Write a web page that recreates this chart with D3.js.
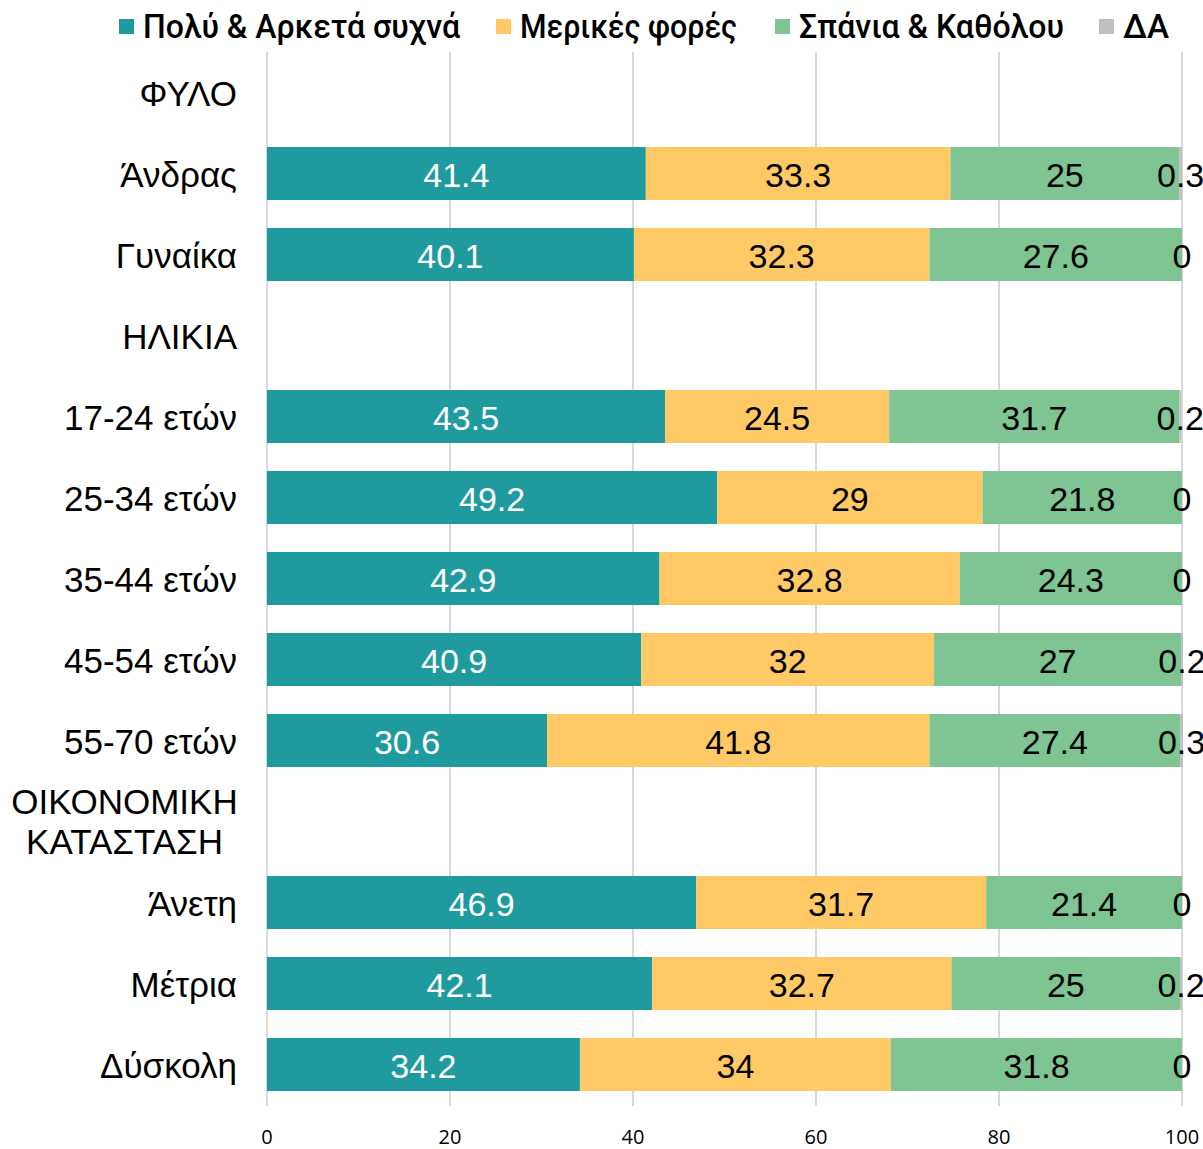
<!DOCTYPE html>
<html><head><meta charset="utf-8">
<script src="https://cdn.jsdelivr.net/npm/d3@7"></script>
<style>body{margin:0;background:#fff;} svg{display:block;}</style>
</head><body>
<svg id="chart" width="1203" height="1149"></svg>
<script>
const categories = ["ΦΥΛΟ","Άνδρας","Γυναίκα","ΗΛΙΚΙΑ","17-24 ετών","25-34 ετών","35-44 ετών","45-54 ετών","55-70 ετών","ΟΙΚΟΝΟΜΙΚΗ ΚΑΤΑΣΤΑΣΗ","Άνετη","Μέτρια","Δύσκολη"];
const seriesNames = ["Πολύ & Αρκετά συχνά","Μερικές φορές","Σπάνια & Καθόλου","ΔΑ"];
const often    = [null,41.4,40.1,null,43.5,49.2,42.9,40.9,30.6,null,46.9,42.1,34.2];
const sometimes= [null,33.3,32.3,null,24.5,29,32.8,32,41.8,null,31.7,32.7,34];
const rarely   = [null,25,27.6,null,31.7,21.8,24.3,27,27.4,null,21.4,25,31.8];
const dk       = [null,0.3,0,null,0.2,0,0,0.2,0.3,null,0,0.2,0];
const xTicks = [0,20,40,60,80,100];
const colors = ["#1f9ba0","#ffca66","#7fc493","#bfbfbf"];
const labelColors = ["#ffffff","#000000","#000000","#000000"];

const svg = d3.select("#chart");
const x = d3.scaleLinear().domain([0,100]).range([267,1182]);
const y = d3.scaleBand().domain(categories).range([52,1105]).paddingInner(28/81).paddingOuter(14/81);

// grid
svg.append("g").selectAll("line").data(xTicks).join("line")
  .attr("x1",d=>x(d)).attr("x2",d=>x(d)).attr("y1",52).attr("y2",1106)
  .attr("stroke","#d9d9d9").attr("stroke-width",2);

// axis labels
svg.append("g").selectAll("text").data(xTicks).join("text")
  .attr("x",d=>x(d)).attr("y",1144).attr("text-anchor","middle")
  .attr("font-family","'Open Sans', 'Noto Sans', sans-serif").attr("font-size",20).attr("fill","#000")
  .text(d=>d);

const seriesData = [often,sometimes,rarely,dk];
const rows = categories.map((c,i)=>({cat:c, vals:seriesData.map(s=>s[i])})).filter(r=>r.vals[0]!==null);
const segs = [];
rows.forEach(r=>{
  let acc=0;
  r.vals.forEach((v,k)=>{ segs.push({cat:r.cat,k,v,x0:acc,x1:acc+v}); acc+=v; });
});

svg.append("g").selectAll("rect").data(segs).join("rect")
  .attr("x",d=>x(d.x0)).attr("width",d=>x(d.x1)-x(d.x0))
  .attr("y",d=>y(d.cat)).attr("height",y.bandwidth())
  .attr("fill",d=>colors[d.k]);

svg.append("g").selectAll("text").data(segs).join("text")
  .attr("x",d=>x((d.x0+d.x1)/2)).attr("y",d=>y(d.cat)+y.bandwidth()/2+1)
  .attr("dy","0.36em").attr("text-anchor","middle")
  .attr("font-family","'Liberation Sans', Arial, sans-serif").attr("font-size",34)
  .attr("fill",d=>labelColors[d.k]).text(d=>d.v);

// category labels
const catG = svg.append("g");
categories.forEach(c=>{
  const cy = y(c)+y.bandwidth()/2;
  if(c==="ΟΙΚΟΝΟΜΙΚΗ ΚΑΤΑΣΤΑΣΗ"){
    const t = catG.append("text").attr("text-anchor","middle")
      .attr("font-family","'Liberation Sans', Arial, sans-serif").attr("font-size",35).attr("fill","#000");
    t.append("tspan").attr("x",124.5).attr("y",cy-8).text("ΟΙΚΟΝΟΜΙΚΗ");
    t.append("tspan").attr("x",124.5).attr("y",cy+32).text("ΚΑΤΑΣΤΑΣΗ");
  } else {
    catG.append("text").attr("x",237).attr("y",cy+1).attr("dy","0.36em").attr("text-anchor","end")
      .attr("font-family","'Liberation Sans', Arial, sans-serif").attr("font-size",35).attr("fill","#000").text(c);
  }
});

// legend
const legX = [119,496,775,1099];
const legTextW = [317,217,265,46];
const lg = svg.append("g");
seriesNames.forEach((n,i)=>{
  lg.append("rect").attr("x",legX[i]).attr("y",19).attr("width",15).attr("height",15).attr("fill",colors[i]);
  lg.append("text").attr("x",legX[i]+24).attr("y",38)
    .attr("font-family","Roboto, sans-serif").attr("font-weight",500).attr("font-size",33)
    .attr("fill","#000").attr("textLength",legTextW[i]).attr("lengthAdjust","spacingAndGlyphs").text(n);
});
</script>
</body></html>
